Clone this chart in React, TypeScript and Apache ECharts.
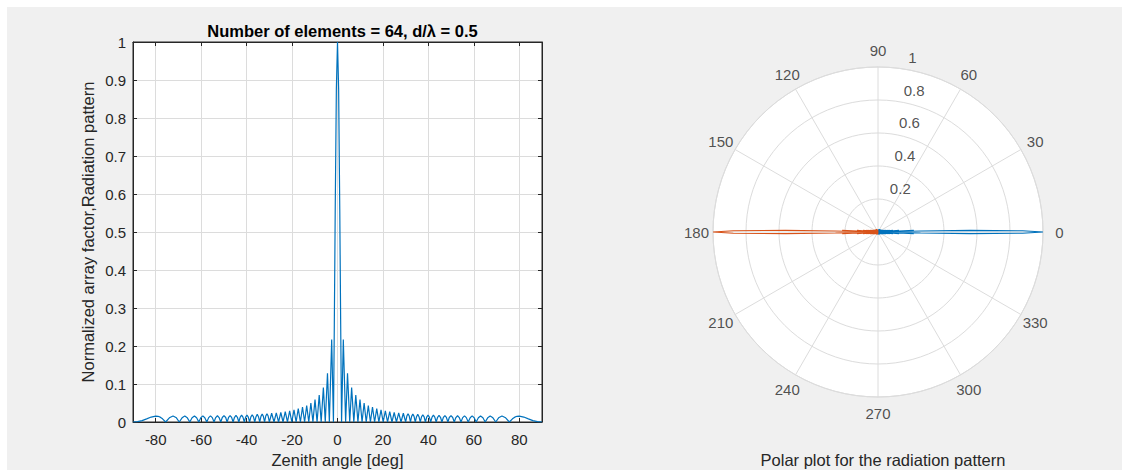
import React, { useEffect, useRef } from 'react';
import * as echarts from 'echarts';

// Zenith angle samples [deg] (nulls, peaks, shoulders)
const zenithAngles = [
  -90, -88, -86, -84, -82, -80, -79, -78, -77, -75.64,
  -74, -72.38, -70.9, -69.64, -68.4, -67.21, -66.1, -65, -64, -62.96,
  -62, -61.04, -60.15, -59.25, -58.4, -57.52, -56.7, -55.9, -55.1, -54.34,
  -53.6, -52.84, -52.1, -51.38, -50.7, -49.96, -49.2, -48.59, -47.93, -47.26,
  -46.6, -45.95, -45.32, -44.68, -44.05, -43.43, -42.82, -42.21, -41.61, -41.01,
  -40.43, -39.84, -39.26, -38.68, -38.12, -37.55, -36.98, -36.42, -35.87, -35.32,
  -34.78, -34.23, -33.69, -33.15, -32.62, -32.09, -31.57, -31.04, -30.52, -30,
  -28.97, -27.95, -26.94, -25.94, -24.95, -23.97, -22.99, -22.02, -21.06, -20.11,
  -19.15, -18.21, -17.27, -16.33, -15.4, -14.48, -13.56, -12.64, -11.72, -10.81,
  -9.9, -8.99, -8.05, -7.18, -6.22, -5.38, -4.41, -3.58, -2.56, -1.79,
  -1.4, -1.0, -0.5,
  0, 0.5, 1.0, 1.4, 1.79, 2.56, 3.58, 4.41, 5.38, 6.22,
  7.18, 8.05, 8.99, 9.9, 10.81, 11.72, 12.64, 13.56, 14.48, 15.4,
  16.33, 17.27, 18.21, 19.15, 20.11, 21.06, 22.02, 22.99, 23.97, 24.95,
  25.94, 26.94, 27.95, 28.97, 30, 30.52, 31.04, 31.57, 32.09, 32.62,
  33.15, 33.69, 34.23, 34.78, 35.32, 35.87, 36.42, 36.98, 37.55, 38.12,
  38.68, 39.26, 39.84, 40.43, 41.01, 41.61, 42.21, 42.82, 43.43, 44.05,
  44.68, 45.32, 45.95, 46.6, 47.26, 47.93, 48.59, 49.2, 49.96, 50.7,
  51.38, 52.1, 52.84, 53.6, 54.34, 55.1, 55.9, 56.7, 57.52, 58.4,
  59.25, 60.15, 61.04, 62, 62.96, 64, 65, 66.1, 67.21, 68.4,
  69.64, 70.9, 72.38, 74, 75.64, 77, 78, 79, 80, 82,
  84, 86, 88, 90,
];

// Normalized array factor
const arrayFactor = [
  0, 0.001, 0.0037, 0.0083, 0.013, 0.0156, 0.015, 0.0127, 0.0084, 0,
  0.011, 0.0157, 0.011, 0, 0.011, 0.0157, 0.011, 0, 0.0112, 0.0159,
  0.0112, 0, 0.0113, 0.016, 0.0113, 0, 0.0115, 0.0162, 0.0115, 0,
  0.0117, 0.0165, 0.0117, 0, 0.0118, 0.0167, 0.0118, 0, 0.012, 0.017,
  0.012, 0, 0.0124, 0.0175, 0.0124, 0, 0.0127, 0.018, 0.0127, 0,
  0.013, 0.0185, 0.013, 0, 0.0134, 0.019, 0.0134, 0, 0.014, 0.02,
  0.014, 0, 0.0148, 0.021, 0.0148, 0, 0.0155, 0.022, 0.0155, 0,
  0.023, 0, 0.024, 0, 0.025, 0, 0.027, 0, 0.029, 0,
  0.032, 0, 0.035, 0, 0.039, 0, 0.043, 0, 0.05, 0,
  0.059, 0, 0.071, 0, 0.091, 0, 0.128, 0, 0.217, 0,
  0.258, 0.56, 0.877,
  1, 0.877, 0.56, 0.258, 0, 0.217, 0, 0.128, 0, 0.091,
  0, 0.071, 0, 0.059, 0, 0.05, 0, 0.043, 0, 0.039,
  0, 0.035, 0, 0.032, 0, 0.029, 0, 0.027, 0, 0.025,
  0, 0.024, 0, 0.023, 0, 0.0155, 0.022, 0.0155, 0, 0.0148,
  0.021, 0.0148, 0, 0.014, 0.02, 0.014, 0, 0.0134, 0.019, 0.0134,
  0, 0.013, 0.0185, 0.013, 0, 0.0127, 0.018, 0.0127, 0, 0.0124,
  0.0175, 0.0124, 0, 0.012, 0.017, 0.012, 0, 0.0118, 0.0167, 0.0118,
  0, 0.0117, 0.0165, 0.0117, 0, 0.0115, 0.0162, 0.0115, 0, 0.0113,
  0.016, 0.0113, 0, 0.0112, 0.0159, 0.0112, 0, 0.011, 0.0157, 0.011,
  0, 0.011, 0.0157, 0.011, 0, 0.0084, 0.0127, 0.015, 0.0156, 0.013,
  0.0083, 0.0037, 0.001, 0,
];

const xTicks = [-80, -60, -40, -20, 0, 20, 40, 60, 80];
const angleTicks = [0, 30, 60, 90, 120, 150, 180, 210, 240, 270, 300, 330];
const radialTicks = [0.2, 0.4, 0.6, 0.8, 1];

const leftTitle = 'Number of elements = 64, d/\u03bb = 0.5';
const polarTitle = 'Polar plot for the radiation pattern';
const xName = 'Zenith angle [deg]';
const yName = 'Normalized array factor,Radiation pattern';

const FONT = '"Liberation Sans", Arial, Helvetica, sans-serif';
const TXT = '#262626';
const GRIDC = '#dcdcdc';
const BLUE = '#0072BD';
const ORANGE = '#D95319';

export default function App() {
  const ref = useRef<HTMLDivElement>(null);
  useEffect(() => {
    if (!ref.current) return;
    const chart = echarts.init(ref.current, undefined, { renderer: 'svg' });
    const cartData = zenithAngles.map((a, i) => [a, arrayFactor[i]]);
    const polarBlue = zenithAngles.map((a, i) => [arrayFactor[i], a]);
    const polarOrange = zenithAngles.map((a, i) => [arrayFactor[i], a + 180]);
    const PC = [878, 232];
    const PR = 165;
    chart.setOption({
      animation: false,
      textStyle: { fontFamily: FONT },
      title: [
        {
          text: leftTitle,
          left: 337.5,
          top: 17,
          textAlign: 'center',
          textStyle: { fontFamily: FONT, fontSize: 16.5, fontWeight: 'bold', color: '#000' },
        },
        {
          text: polarTitle,
          left: 878,
          top: 446,
          textAlign: 'center',
          textStyle: { fontFamily: FONT, fontSize: 16.5, fontWeight: 'normal', color: TXT },
        },
      ],
      graphic: [
        {
          type: 'circle',
          z: -1,
          silent: true,
          shape: { cx: PC[0], cy: PC[1], r: PR },
          style: { fill: '#ffffff' },
        },
      ],
      grid: {
        left: 133,
        top: 42,
        width: 409,
        height: 380,
        outerBoundsMode: 'none',
        containLabel: false,
        show: true,
        backgroundColor: '#ffffff',
        borderColor: TXT,
        borderWidth: 1,
      },
      xAxis: [
        {
          type: 'value',
          min: -90,
          max: 90,
          position: 'bottom',
          name: xName,
          nameLocation: 'middle',
          nameGap: 29,
          nameTextStyle: { fontFamily: FONT, fontSize: 16.5, color: TXT },
          axisLine: { show: true, onZero: false, lineStyle: { color: TXT } },
          axisTick: { show: true, inside: true, length: 4, customValues: xTicks, lineStyle: { color: TXT } },
          axisLabel: { customValues: xTicks, fontFamily: FONT, fontSize: 15, color: TXT, margin: 10 },
          splitLine: { show: true, lineStyle: { color: GRIDC } },
        },
        {
          type: 'value',
          min: -90,
          max: 90,
          position: 'top',
          axisLine: { show: true, onZero: false, lineStyle: { color: TXT } },
          axisTick: { show: true, inside: true, length: 4, customValues: xTicks, lineStyle: { color: TXT } },
          axisLabel: { show: false },
          splitLine: { show: false },
        },
      ],
      yAxis: [
        {
          type: 'value',
          min: 0,
          max: 1,
          interval: 0.1,
          position: 'left',
          name: yName,
          nameLocation: 'middle',
          nameGap: 37,
          nameRotate: 90,
          nameTextStyle: { fontFamily: FONT, fontSize: 16.5, color: TXT },
          axisLine: { show: true, onZero: false, lineStyle: { color: TXT } },
          axisTick: { show: true, inside: true, length: 4, lineStyle: { color: TXT } },
          axisLabel: { fontFamily: FONT, fontSize: 15, color: TXT, margin: 7 },
          splitLine: { show: true, lineStyle: { color: GRIDC } },
        },
        {
          type: 'value',
          min: 0,
          max: 1,
          interval: 0.1,
          position: 'right',
          axisLine: { show: true, onZero: false, lineStyle: { color: TXT } },
          axisTick: { show: true, inside: true, length: 4, lineStyle: { color: TXT } },
          axisLabel: { show: false },
          splitLine: { show: false },
        },
      ],
      polar: [{ center: PC, radius: PR }],
      angleAxis: {
        polarIndex: 0,
        type: 'value',
        min: 0,
        max: 360,
        interval: 30,
        startAngle: 0,
        clockwise: false,
        axisLine: { show: true, lineStyle: { color: GRIDC, width: 1 } },
        axisTick: { show: false },
        axisLabel: { show: false },
        splitLine: { show: true, lineStyle: { color: GRIDC } },
      },
      radiusAxis: {
        polarIndex: 0,
        type: 'value',
        min: 0,
        max: 1,
        interval: 0.2,
        axisLine: { show: false },
        axisTick: { show: false },
        axisLabel: { show: false },
        splitLine: { show: true, lineStyle: { color: GRIDC } },
      },
      series: [
        {
          type: 'line',
          xAxisIndex: 0,
          yAxisIndex: 0,
          data: cartData,
          showSymbol: false,
          symbol: 'none',
          lineStyle: { color: BLUE, width: 1.2 },
          itemStyle: { color: BLUE },
        },
        {
          type: 'line',
          coordinateSystem: 'polar',
          polarIndex: 0,
          data: polarBlue,
          symbol: 'none',
          clip: false,
          lineStyle: { color: BLUE, width: 1.1 },
          itemStyle: { color: BLUE },
        },
        {
          type: 'line',
          coordinateSystem: 'polar',
          polarIndex: 0,
          data: polarOrange,
          symbol: 'none',
          clip: false,
          lineStyle: { color: ORANGE, width: 1.1 },
          itemStyle: { color: ORANGE },
        },
        {
          type: 'scatter',
          coordinateSystem: 'polar',
          polarIndex: 0,
          silent: true,
          clip: false,
          symbolSize: 0.1,
          itemStyle: { color: 'transparent' },
          data: angleTicks.map((a) => [1.1, a]),
          label: {
            show: true,
            position: 'inside',
            formatter: (p: any) => String(angleTicks[p.dataIndex]),
            fontFamily: FONT,
            fontSize: 15,
            color: TXT,
          },
        },
        {
          type: 'scatter',
          coordinateSystem: 'polar',
          polarIndex: 0,
          silent: true,
          clip: false,
          symbolSize: 0.1,
          itemStyle: { color: 'transparent' },
          data: radialTicks.map((r) => [r + 0.01, 82]),
          label: {
            show: true,
            position: 'right',
            distance: 7,
            offset: [0, -9.5],
            formatter: (p: any) => String(radialTicks[p.dataIndex]),
            fontFamily: FONT,
            fontSize: 15,
            color: TXT,
          },
        },
      ],
    });
    return () => chart.dispose();
  }, []);

  return (
    <div style={{ position: 'fixed', left: 0, top: 0, width: 1129, height: 470, background: '#ffffff' }}>
      <div style={{ position: 'absolute', left: 7, top: 7, right: 7, bottom: 0, background: '#f0f0f0' }} />
      <div ref={ref} style={{ position: 'absolute', left: 0, top: 0, width: 1129, height: 470 }} />
    </div>
  );
}
